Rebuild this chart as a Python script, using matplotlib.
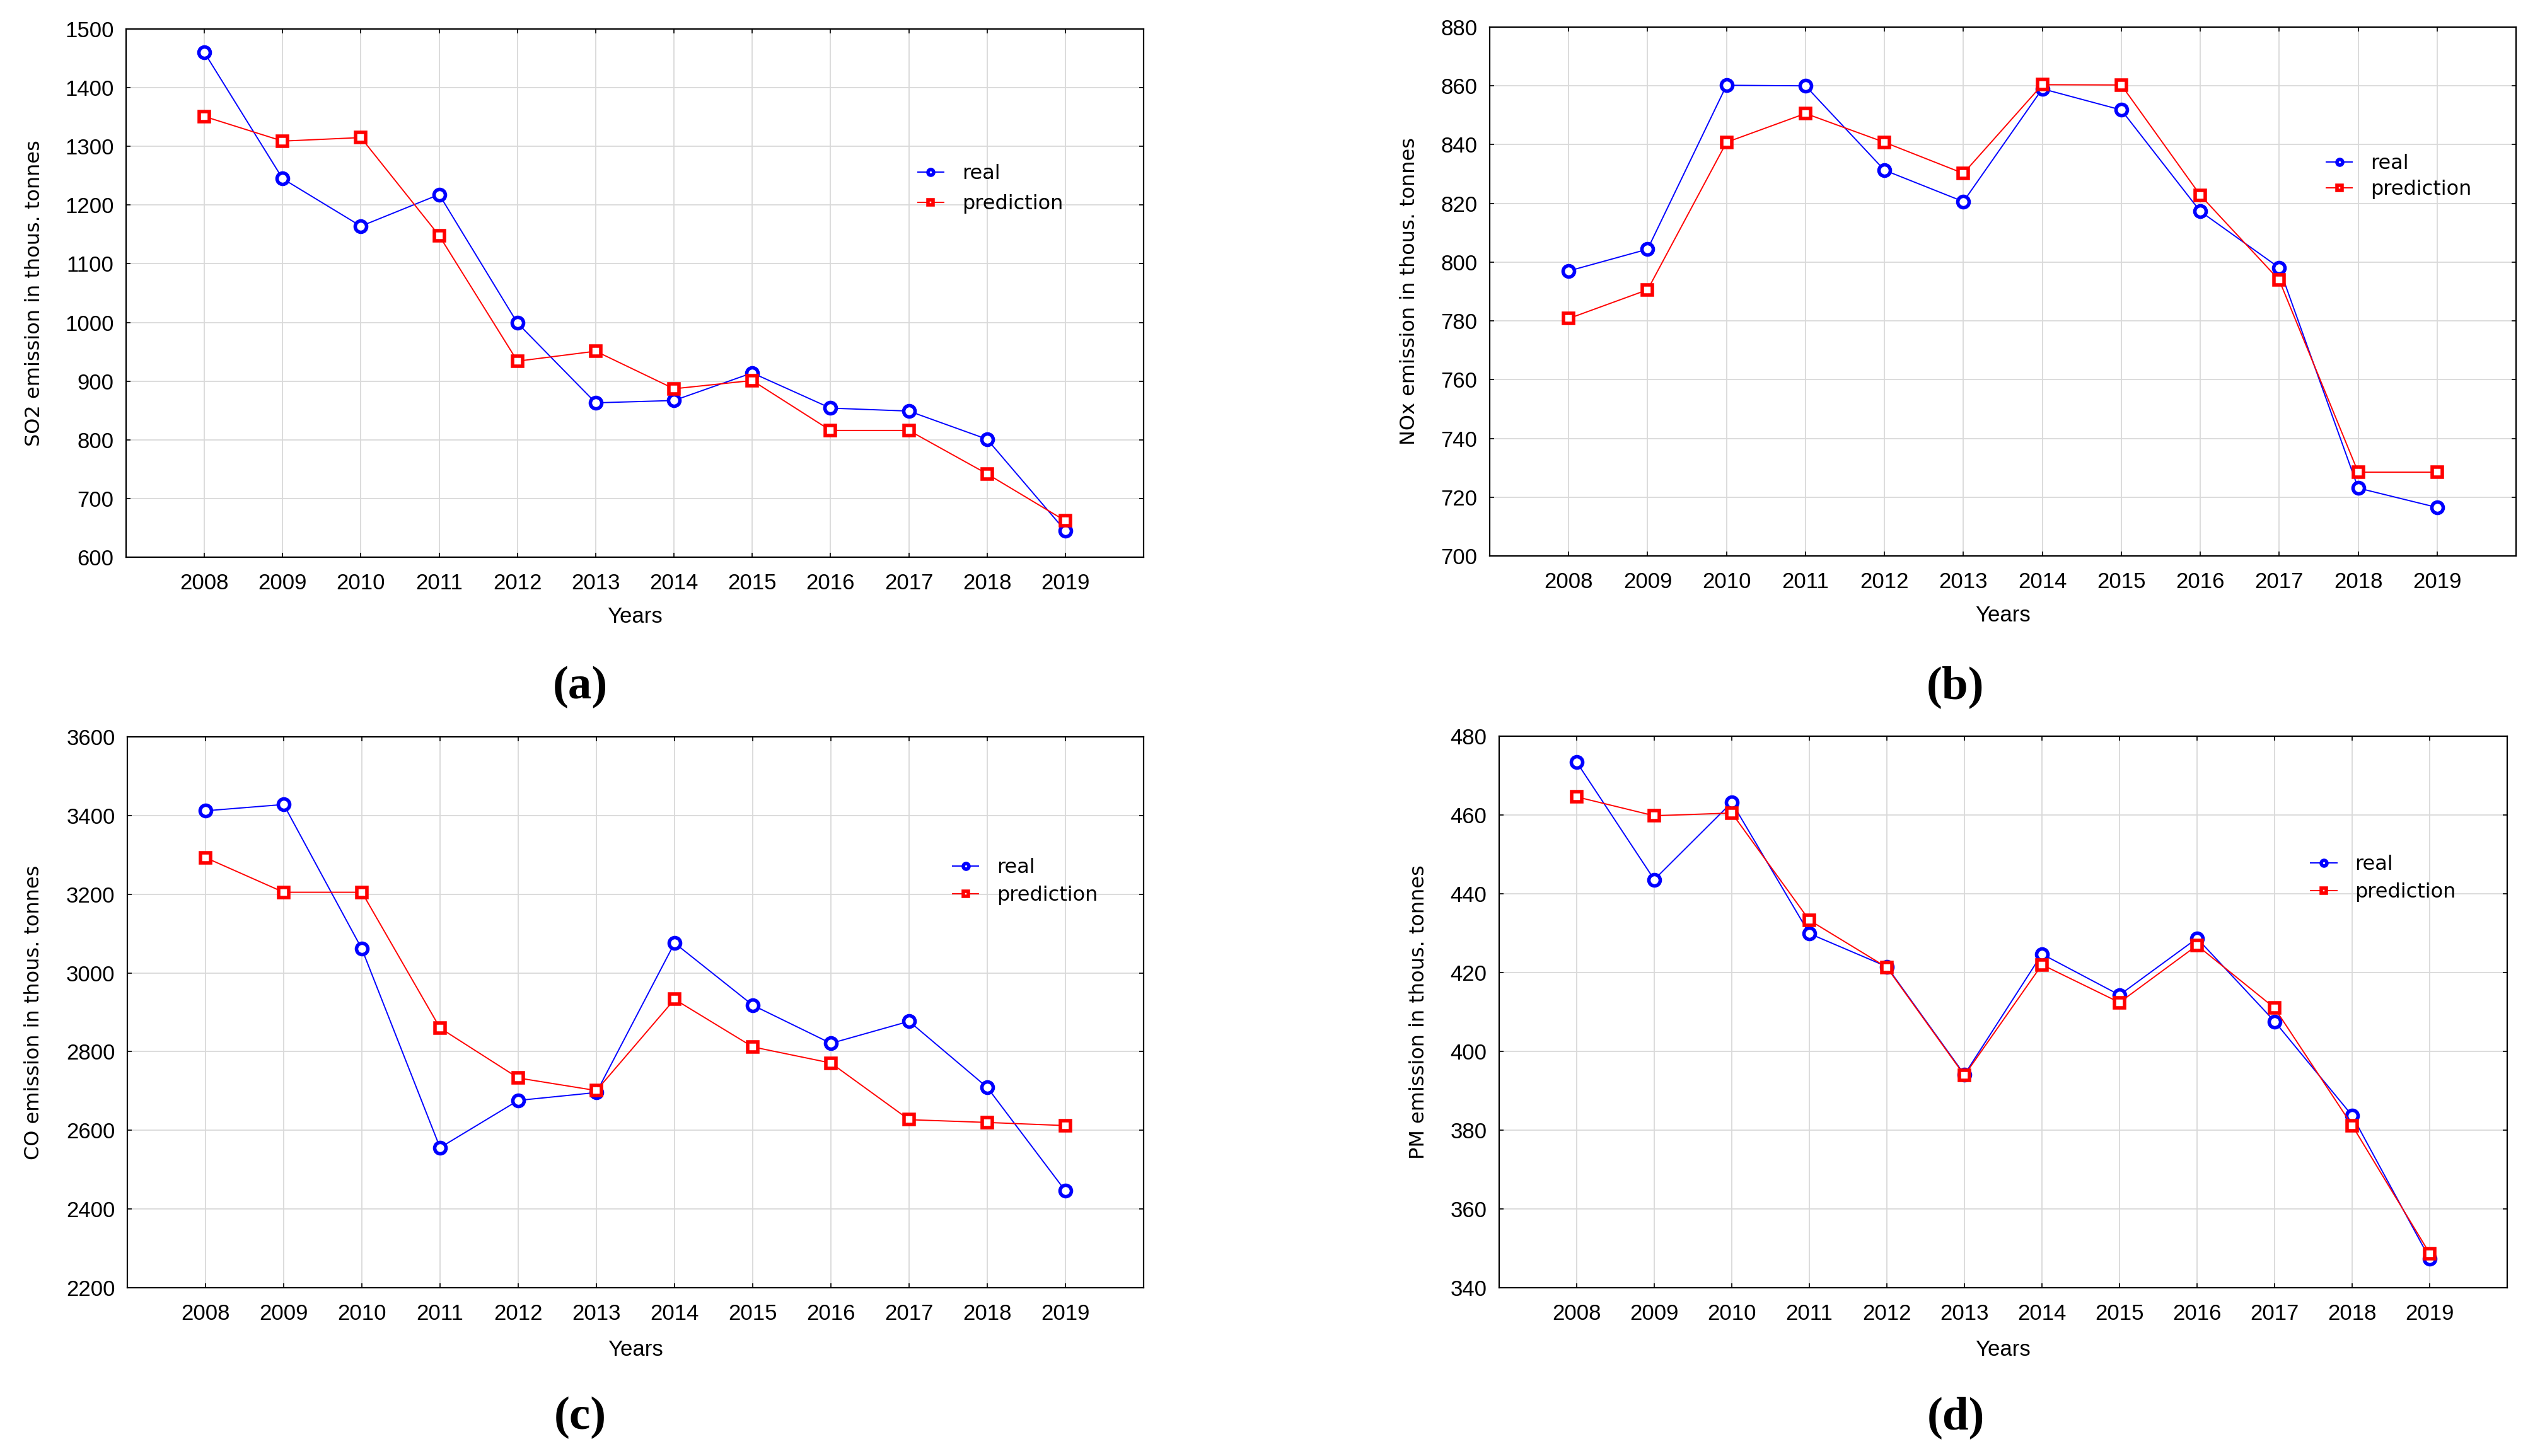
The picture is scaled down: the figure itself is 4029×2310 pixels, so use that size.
import matplotlib
matplotlib.use('Agg')
import matplotlib.pyplot as plt

# データ
years = list(range(2008, 2020))

so2_real = [1460, 1245, 1164, 1218, 999, 863, 867, 914, 854, 849, 801, 645]
so2_pred = [1351, 1309, 1315, 1148, 934, 951, 887, 901, 816, 816, 742, 662]

nox_real = [797, 804.4, 860.2, 860, 831.3, 820.6, 859, 851.8, 817.3, 798.1, 723.1, 716.5]
nox_pred = [780.8, 790.6, 840.8, 850.6, 840.8, 830.2, 860.4, 860.3, 822.8, 793.9, 728.5, 728.5]

co_real = [3412, 3428, 3061, 2556, 2676, 2696, 3076, 2918, 2821, 2877, 2709, 2446]
co_pred = [3293, 3205, 3205, 2860, 2733, 2701, 2933, 2812, 2771, 2627, 2620, 2612]

pm_real = [473.4, 443.6, 463.2, 429.9, 421.5, 394.1, 424.7, 414.3, 428.7, 407.6, 383.7, 347.4]
pm_pred = [464.6, 459.8, 460.5, 433.3, 421.3, 393.9, 422.0, 412.4, 426.9, 411.0, 381.2, 348.7]

ylabels = ['SO2 emission in thous. tonnes', 'NOx emission in thous. tonnes',
           'CO emission in thous. tonnes', 'PM emission in thous. tonnes']
panel_tags = ['(a)', '(b)', '(c)', '(d)']

W, H = 4030, 2310
fig = plt.figure(figsize=(W / 100, H / 100), dpi=100)

# 各パネルの配置（ピクセル: left, right, top, bottom）
boxes = [(200, 1814, 46, 884), (2363, 3991, 43, 882),
         (202, 1814, 1169, 2043), (2378, 3977, 1168, 2043)]
yranges = [(600, 1500, 100), (700, 880, 20), (2200, 3600, 200), (340, 480, 20)]
# 凡例の位置（軸座標）と行間
legend_pos = [(0.778, 0.745), (0.815, 0.76), (0.812, 0.78), (0.805, 0.785)]
legend_space = [0.55, 0.3, 0.4, 0.4]
# (a)などのラベル位置（ピクセル）
tag_pos = [(920, 1090), (3102, 1090), (920, 2249), (3102, 2249)]
ylabel_x = [54, 2236, 54, 2251]

series = [(so2_real, so2_pred), (nox_real, nox_pred), (co_real, co_pred), (pm_real, pm_pred)]

tick_font = {'family': 'Liberation Sans', 'size': 25}
label_font = {'family': 'DejaVu Sans', 'size': 23}

for i, (real, pred) in enumerate(series):
    l, r, t, b = boxes[i]
    ax = fig.add_axes([l / W, (H - b) / H, (r - l) / W, (b - t) / H])

    ax.plot(years, real, color='blue', lw=1.4, marker='o', ms=13,
            mfc='white', mec='blue', mew=4, label='real', zorder=3)
    ax.plot(years, pred, color='red', lw=1.4, marker='s', ms=12,
            mfc='white', mec='red', mew=4, label='prediction', zorder=4)

    ymin, ymax, step = yranges[i]
    ax.set_ylim(ymin, ymax)
    ax.set_yticks(range(ymin, ymax + 1, step))
    ax.set_xlim(2007, 2020)
    ax.set_xticks(years)

    ax.grid(color='#d9d9d9', lw=1.3, zorder=0)
    ax.set_axisbelow(True)
    for s in ax.spines.values():
        s.set_linewidth(1.6)
    ax.tick_params(direction='in', length=5, width=1.2, top=True, right=True,
                   pad=18)
    for lab in ax.get_xticklabels() + ax.get_yticklabels():
        lab.set_fontfamily(tick_font['family'])
        lab.set_fontsize(tick_font['size'])
    ax.tick_params(axis='y', pad=14)

    ax.set_xlabel('Years', fontdict=tick_font)
    ax.xaxis.set_label_coords(0.5, -0.113)
    ax.xaxis.label.set_va('center')

    ax.set_ylabel(ylabels[i], fontdict=label_font)
    ax.yaxis.set_label_coords((ylabel_x[i] - l) / (r - l), 0.5)
    ax.yaxis.label.set_va('center')

    ax.legend(loc='upper left', bbox_to_anchor=legend_pos[i], frameon=False,
              prop={'family': 'DejaVu Sans', 'size': 23}, markerscale=0.5,
              handlelength=1.3, handletextpad=0.9, labelspacing=legend_space[i],
              borderpad=0, borderaxespad=0)

    tx, ty = tag_pos[i]
    fig.text(tx / W, 1 - ty / H, panel_tags[i], ha='center', va='center',
             family='Liberation Serif', weight='bold', size=54)

fig.savefig('out.png', dpi=100)
